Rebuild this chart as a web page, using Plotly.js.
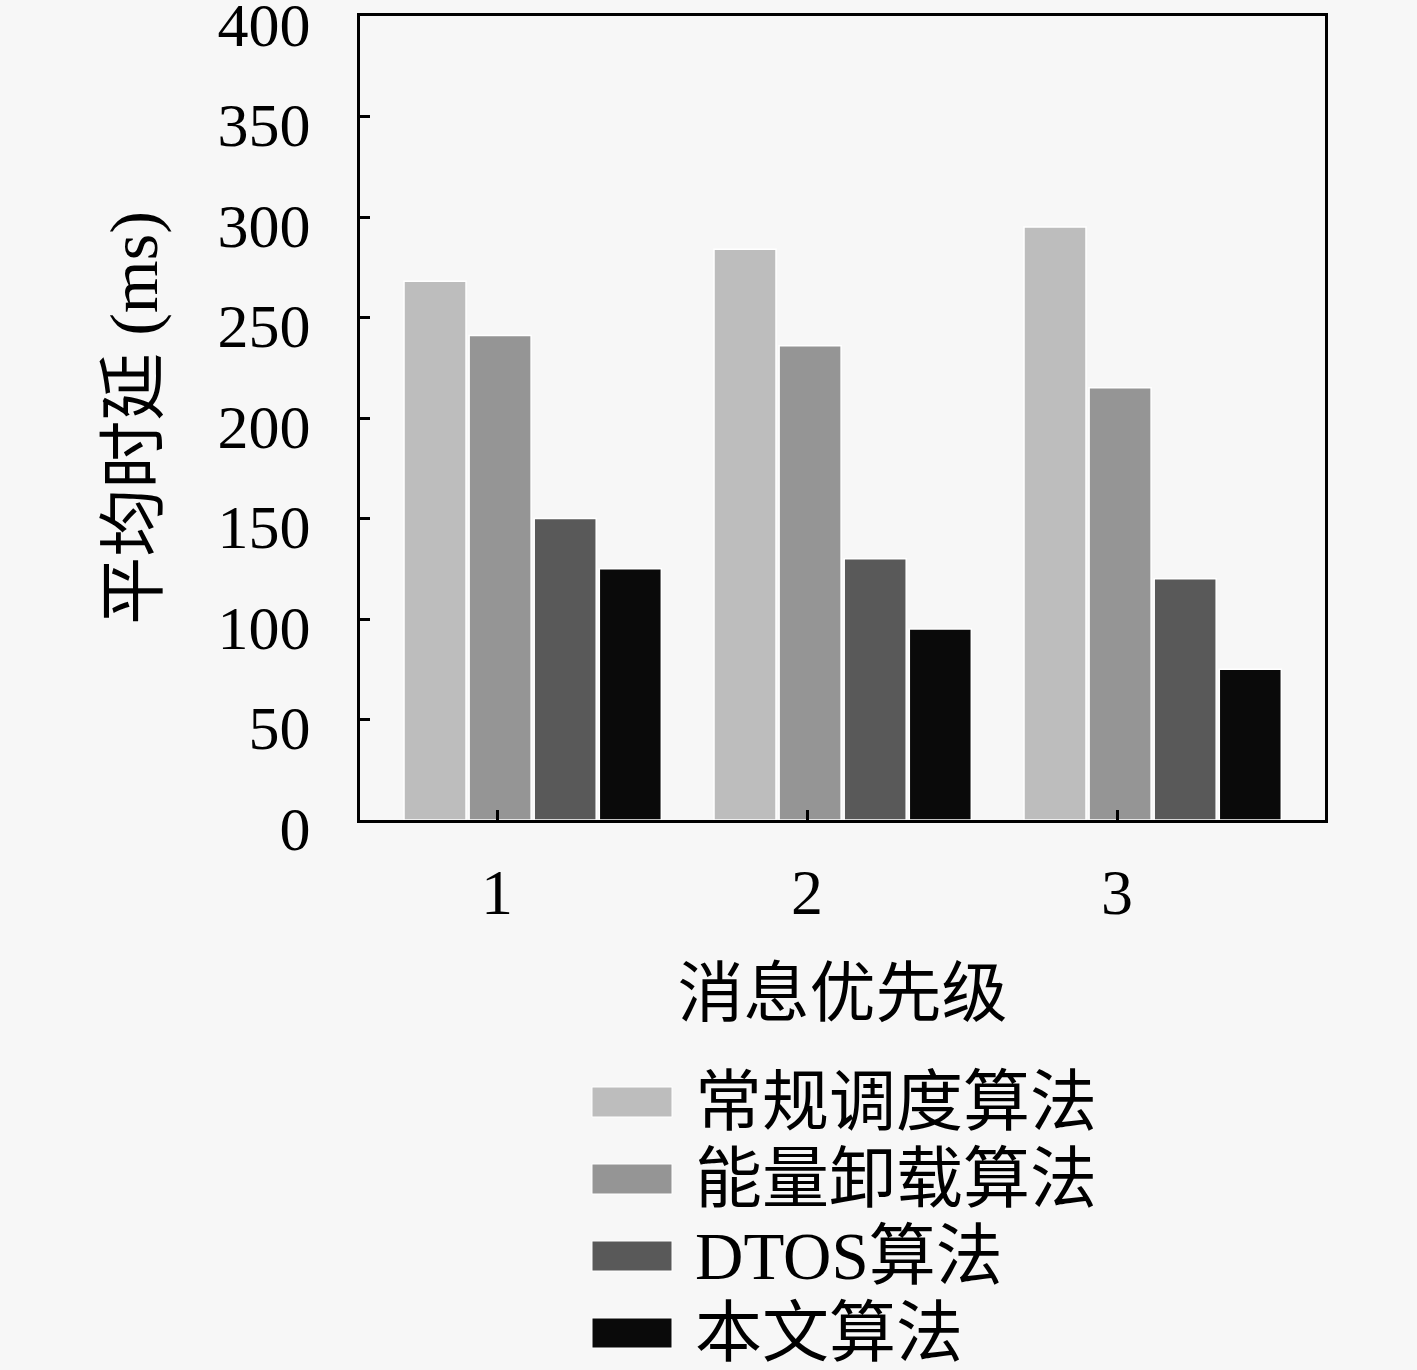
<!DOCTYPE html>
<html>
<head>
<meta charset="utf-8">
<script src="https://cdn.plot.ly/plotly-3.0.1.min.js"></script>
<style>
  body { margin: 0; background: #f7f7f7; }
</style>
</head>
<body>
<div id="chart" style="width:1417px;height:1370px;"></div>
<script>
// message priority on x, mean delay (ms) per algorithm
const PRIORITIES = [ 1, 2, 3 ];
const SERIES     = [ '常规调度算法', '能量卸载算法', 'DTOS算法', '本文算法' ];
const CONVENTIONAL = [ 268, 284, 295 ];
const ENERGY_OFFLOAD = [ 241, 236, 215 ];
const DTOS       = [ 150, 130, 120 ];
const PROPOSED   = [ 125, 95, 75 ];
const Y_TICKS    = [ 0, 50, 100, 150, 200, 250, 300, 350, 400 ];

const VALUES  = [ CONVENTIONAL, ENERGY_OFFLOAD, DTOS, PROPOSED ];
const COLORS  = [ '#bdbdbd', '#959595', '#595959', '#0a0a0a' ];
const OFFSETS = [ -0.30, -0.09, 0.12, 0.33 ];
const BAR_W   = 0.2;

const FONT = '"Liberation Serif", "DejaVu Serif", "Noto Sans CJK SC", serif';

// plot area in pixels, used to place the legend
const PL = 360, PR = 1325, PT = 16, PB = 820;
function px( x ) { return ( x - PL ) / ( PR - PL ); }
function py( y ) { return ( PB - y ) / ( PB - PT ); }

let traces = [];
for ( let i = 0; i < SERIES.length; i++ ) {
	traces.push( {
		type  : 'bar',
		name  : SERIES[ i ],
		x     : PRIORITIES,
		y     : VALUES[ i ],
		width : BAR_W,
		offset: OFFSETS[ i ],
		marker: { color: COLORS[ i ], line: { color: '#ffffff', width: 1.5 } },
		showlegend: false
	} );
}

// legend drawn by hand so the swatches can be as large as in the figure
let shapes = [];
let annotations = [];
const LEG_Y = [ 1102, 1179, 1256, 1333 ];
for ( let i = 0; i < SERIES.length; i++ ) {
	shapes.push( {
		type: 'rect', xref: 'paper', yref: 'paper',
		x0: px( 592 ), x1: px( 672 ),
		y0: py( LEG_Y[ i ] + 15 ), y1: py( LEG_Y[ i ] - 15 ),
		fillcolor: COLORS[ i ], line: { color: '#ffffff', width: 1 }
	} );
	annotations.push( {
		xref: 'paper', yref: 'paper',
		x: px( 693 ), y: py( LEG_Y[ i ] ),
		xanchor: 'left', yanchor: 'middle',
		text: SERIES[ i ], showarrow: false,
		font: { family: FONT, size: 67, color: '#000' }
	} );
}

const layout = {
	width : 1417,
	height: 1370,
	margin: { l: PL, r: 1417 - PR, t: PT, b: 1370 - PB },
	paper_bgcolor: '#f7f7f7',
	plot_bgcolor : '#f7f7f7',
	font: { family: FONT, color: '#000' },
	barmode: 'overlay',
	xaxis: {
		range: [ 0.558, 3.671 ],
		tickvals: PRIORITIES,
		ticktext: PRIORITIES.map( String ),
		ticks: 'inside', ticklen: 10, tickwidth: 3, tickcolor: '#000',
		showline: true, linecolor: '#000', linewidth: 3, mirror: true,
		showgrid: false, zeroline: false,
		tickfont: { family: FONT, size: 64 },
		ticklabelstandoff: 14,
		title: { text: '消息优先级', font: { family: FONT, size: 66 }, standoff: 44 }
	},
	yaxis: {
		range: [ 0, 400 ],
		tickvals: Y_TICKS,
		ticks: 'inside', ticklen: 10, tickwidth: 3, tickcolor: '#000',
		showline: true, linecolor: '#000', linewidth: 3, mirror: true,
		showgrid: false, zeroline: false,
		tickfont: { family: FONT, size: 62 },
		ticklabelstandoff: 34,
		ticklabelshift: 8,
		ticklabeloverflow: 'allow',
		title: { text: '平均时延 (ms)', font: { family: FONT, size: 68 }, standoff: 38 }
	},
	shapes: shapes,
	annotations: annotations
};

Plotly.newPlot( 'chart', traces, layout, { staticPlot: true } );
</script>
</body>
</html>
